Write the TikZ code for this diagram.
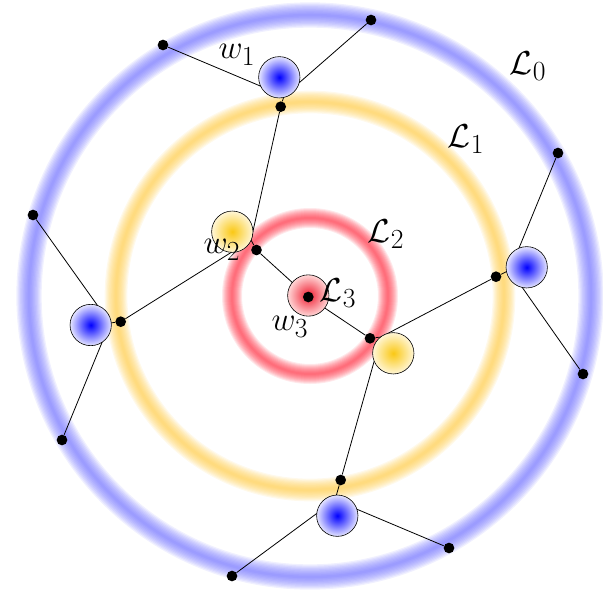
\documentclass[tikz,border=0pt]{standalone}
\usepackage{amsmath,amssymb}
\usepackage{xcolor}
\usepackage{tikz}
\usetikzlibrary{backgrounds}
\definecolor{ringBlue}{RGB}{105,105,255}
\definecolor{ringYellow}{RGB}{255,200,60}
\definecolor{ringRed}{RGB}{255,35,55}

\begin{document}
\begin{tikzpicture}[x=0.75pt, y=-0.75pt,
    dot/.style={circle, fill=black, inner sep=0pt, minimum size=8pt},
    walker/.style={circle, draw=black, line width=0.45pt, inner sep=0pt, minimum size=31pt},
    wblue/.style={walker, inner color=blue, outer color=blue!10},
    wyellow/.style={walker, inner color={rgb,255:red,250;green,200;blue,20}, outer color={rgb,255:red,255;green,246;blue,215}},
    wred/.style={walker, inner color={rgb,255:red,240;green,30;blue,50}, outer color={rgb,255:red,255;green,215;blue,215}},
    link/.style={draw=black, line width=0.6pt},
    lbl/.style={font=\fontsize{28}{32}\selectfont, inner sep=0pt}
  ]
    \useasboundingbox (0,0) rectangle (603,596);
    % walkers
    \node[wred] (w3) at (308.3,295.5) {};
    \node[wyellow] (w2a) at (232.3,231.7) {};
    \node[wyellow] (w2b) at (393.3,353.3) {};
    \node[wblue] (w1a) at (279.3,77.3) {};
    \node[wblue] (w1b) at (90.7,325) {};
    \node[wblue] (w1c) at (526.7,267.3) {};
    \node[wblue] (w1d) at (337.3,515.7) {};
    % tree vertices
    \node[dot] (c) at (308.3,297) {};
    \node[dot] (r1) at (256.5,250) {};
    \node[dot] (r2) at (370,338.3) {};
    \node[dot] (y1) at (280.7,106.7) {};
    \node[dot] (y2) at (120.7,321.7) {};
    \node[dot] (y3) at (496,276.7) {};
    \node[dot] (y4) at (340.7,480) {};
    \node[dot] (o1) at (163,45) {};
    \node[dot] (o2) at (371,20) {};
    \node[dot] (o3) at (33,215) {};
    \node[dot] (o4) at (62,440) {};
    \node[dot] (o5) at (558,153) {};
    \node[dot] (o6) at (583,374) {};
    \node[dot] (o7) at (232,576) {};
    \node[dot] (o8) at (449,548) {};
    % junctions hidden under the walkers
    \coordinate (j1a) at (284,96);
    \coordinate (j1b) at (110,323);
    \coordinate (j1c) at (510,270);
    \coordinate (j1d) at (335,500);
    \coordinate (j2a) at (251,240);
    \coordinate (j2b) at (381,337);
    % labels
    \node[lbl] (l0) at (528,66) {$\mathcal{L}_0$};
    \node[lbl] (l1) at (466,139) {$\mathcal{L}_1$};
    \node[lbl] (l2) at (386,234) {$\mathcal{L}_2$};
    \node[lbl] (l3) at (338,293) {$\mathcal{L}_3$};
    \node[lbl] (lw1) at (237,55) {$w_1$};
    \node[lbl] (lw2) at (222,250) {$w_2$};
    \node[lbl] (lw3) at (290,327) {$w_3$};
    \begin{scope}[on background layer]
      % blurred levels
      \foreach \r/\c/\m in {281/ringBlue/1.9, 194/ringYellow/1.7, 78/ringRed/1.5}
        \foreach \w in {1,...,10}
          \draw[\c, opacity=0.1, line width=\w*\m pt] (310,296) circle (\r);
      \draw[link] (c) -- (r1) -- (j2a);
      \draw[link] (c) -- (r2) -- (j2b);
      \draw[link] (y1) -- (j2a) -- (y2);
      \draw[link] (y3) -- (j2b) -- (y4);
      \draw[link] (o1) -- (j1a) -- (o2);
      \draw[link] (o3) -- (j1b) -- (o4);
      \draw[link] (o5) -- (j1c) -- (o6);
      \draw[link] (o7) -- (j1d) -- (o8);
      \draw[link] (y1) -- (j1a);
      \draw[link] (y2) -- (j1b);
      \draw[link] (y3) -- (j1c);
      \draw[link] (y4) -- (j1d);
    \end{scope}
\end{tikzpicture}
\end{document}
